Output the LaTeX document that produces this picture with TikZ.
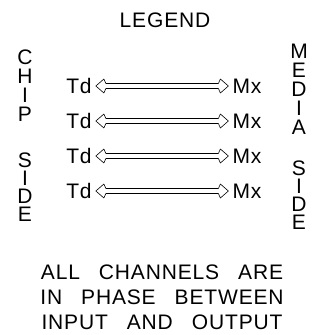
\documentclass[tikz,border=0pt]{standalone}
\usepackage{fontspec}
\setmainfont{Liberation Sans}[LetterSpace=4]
\usetikzlibrary{calc,positioning}
\newcommand\notefont{\fontsize{21}{25}\selectfont\spaceskip=19pt\relax}

\begin{document}
\begin{tikzpicture}[x=1pt,y=-1pt,
  lbl/.style={inner sep=2pt, font=\fontsize{21}{25}\selectfont},
  endlbl/.style={lbl, inner sep=4pt},
  side/.style={inner sep=0pt, font=\fontsize{21}{25}\selectfont},
  chan/.style={line width=0.6pt, line join=round, to path={
    let \p1=(\tikztostart), \p2=(\tikztotarget) in
    (\x1,\y1) -- (\x1+8pt,\y1+7pt) -- (\x1+10pt,\y1+2.5pt)
    -- (\x2-10pt,\y1+2.5pt) -- (\x2-8pt,\y1+7pt) -- (\x2,\y1)
    -- (\x2-8pt,\y1-7pt) -- (\x2-10pt,\y1-2.5pt)
    -- (\x1+10pt,\y1-2.5pt) -- (\x1+8pt,\y1-7pt) -- cycle}}]

\useasboundingbox (0,0) rectangle (320,335);

\def \rowgap {35}
\def \pitch {19}

\node[lbl] (legend) at (165,20) {LEGEND};

% letters down the two sides
\foreach \l [count=\i] in {C,H,I,P}
  \node[side] (chip\i) at (25,{57+\pitch*(\i-1)}) {\l};
\foreach \l [count=\i] in {S,I,D,E}
  \node[side] (cside\i) at (25,{160+18*(\i-1)}) {\l};
\foreach \l [count=\i] in {M,E,D,I,A}
  \node[side] (media\i) at (299,{51+\pitch*(\i-1)}) {\l};
\foreach \l [count=\i] in {S,I,D,E}
  \node[side] (mside\i) at (299,{168+18*(\i-1)}) {\l};

\foreach \r in {1,...,4}
{
  \node[endlbl] (td\r) at (79,{86+\rowgap*(\r-1)}) {Td};
  \node[endlbl] (mx\r) at (247,{86+\rowgap*(\r-1)}) {Mx};
  \draw[chan] (td\r.east) to (mx\r.west);
}

\node[lbl, align=center, font=\notefont] (note) at (162,297)
  {ALL CHANNELS ARE\\ IN PHASE BETWEEN\\ INPUT AND OUTPUT};

\end{tikzpicture}
\end{document}
